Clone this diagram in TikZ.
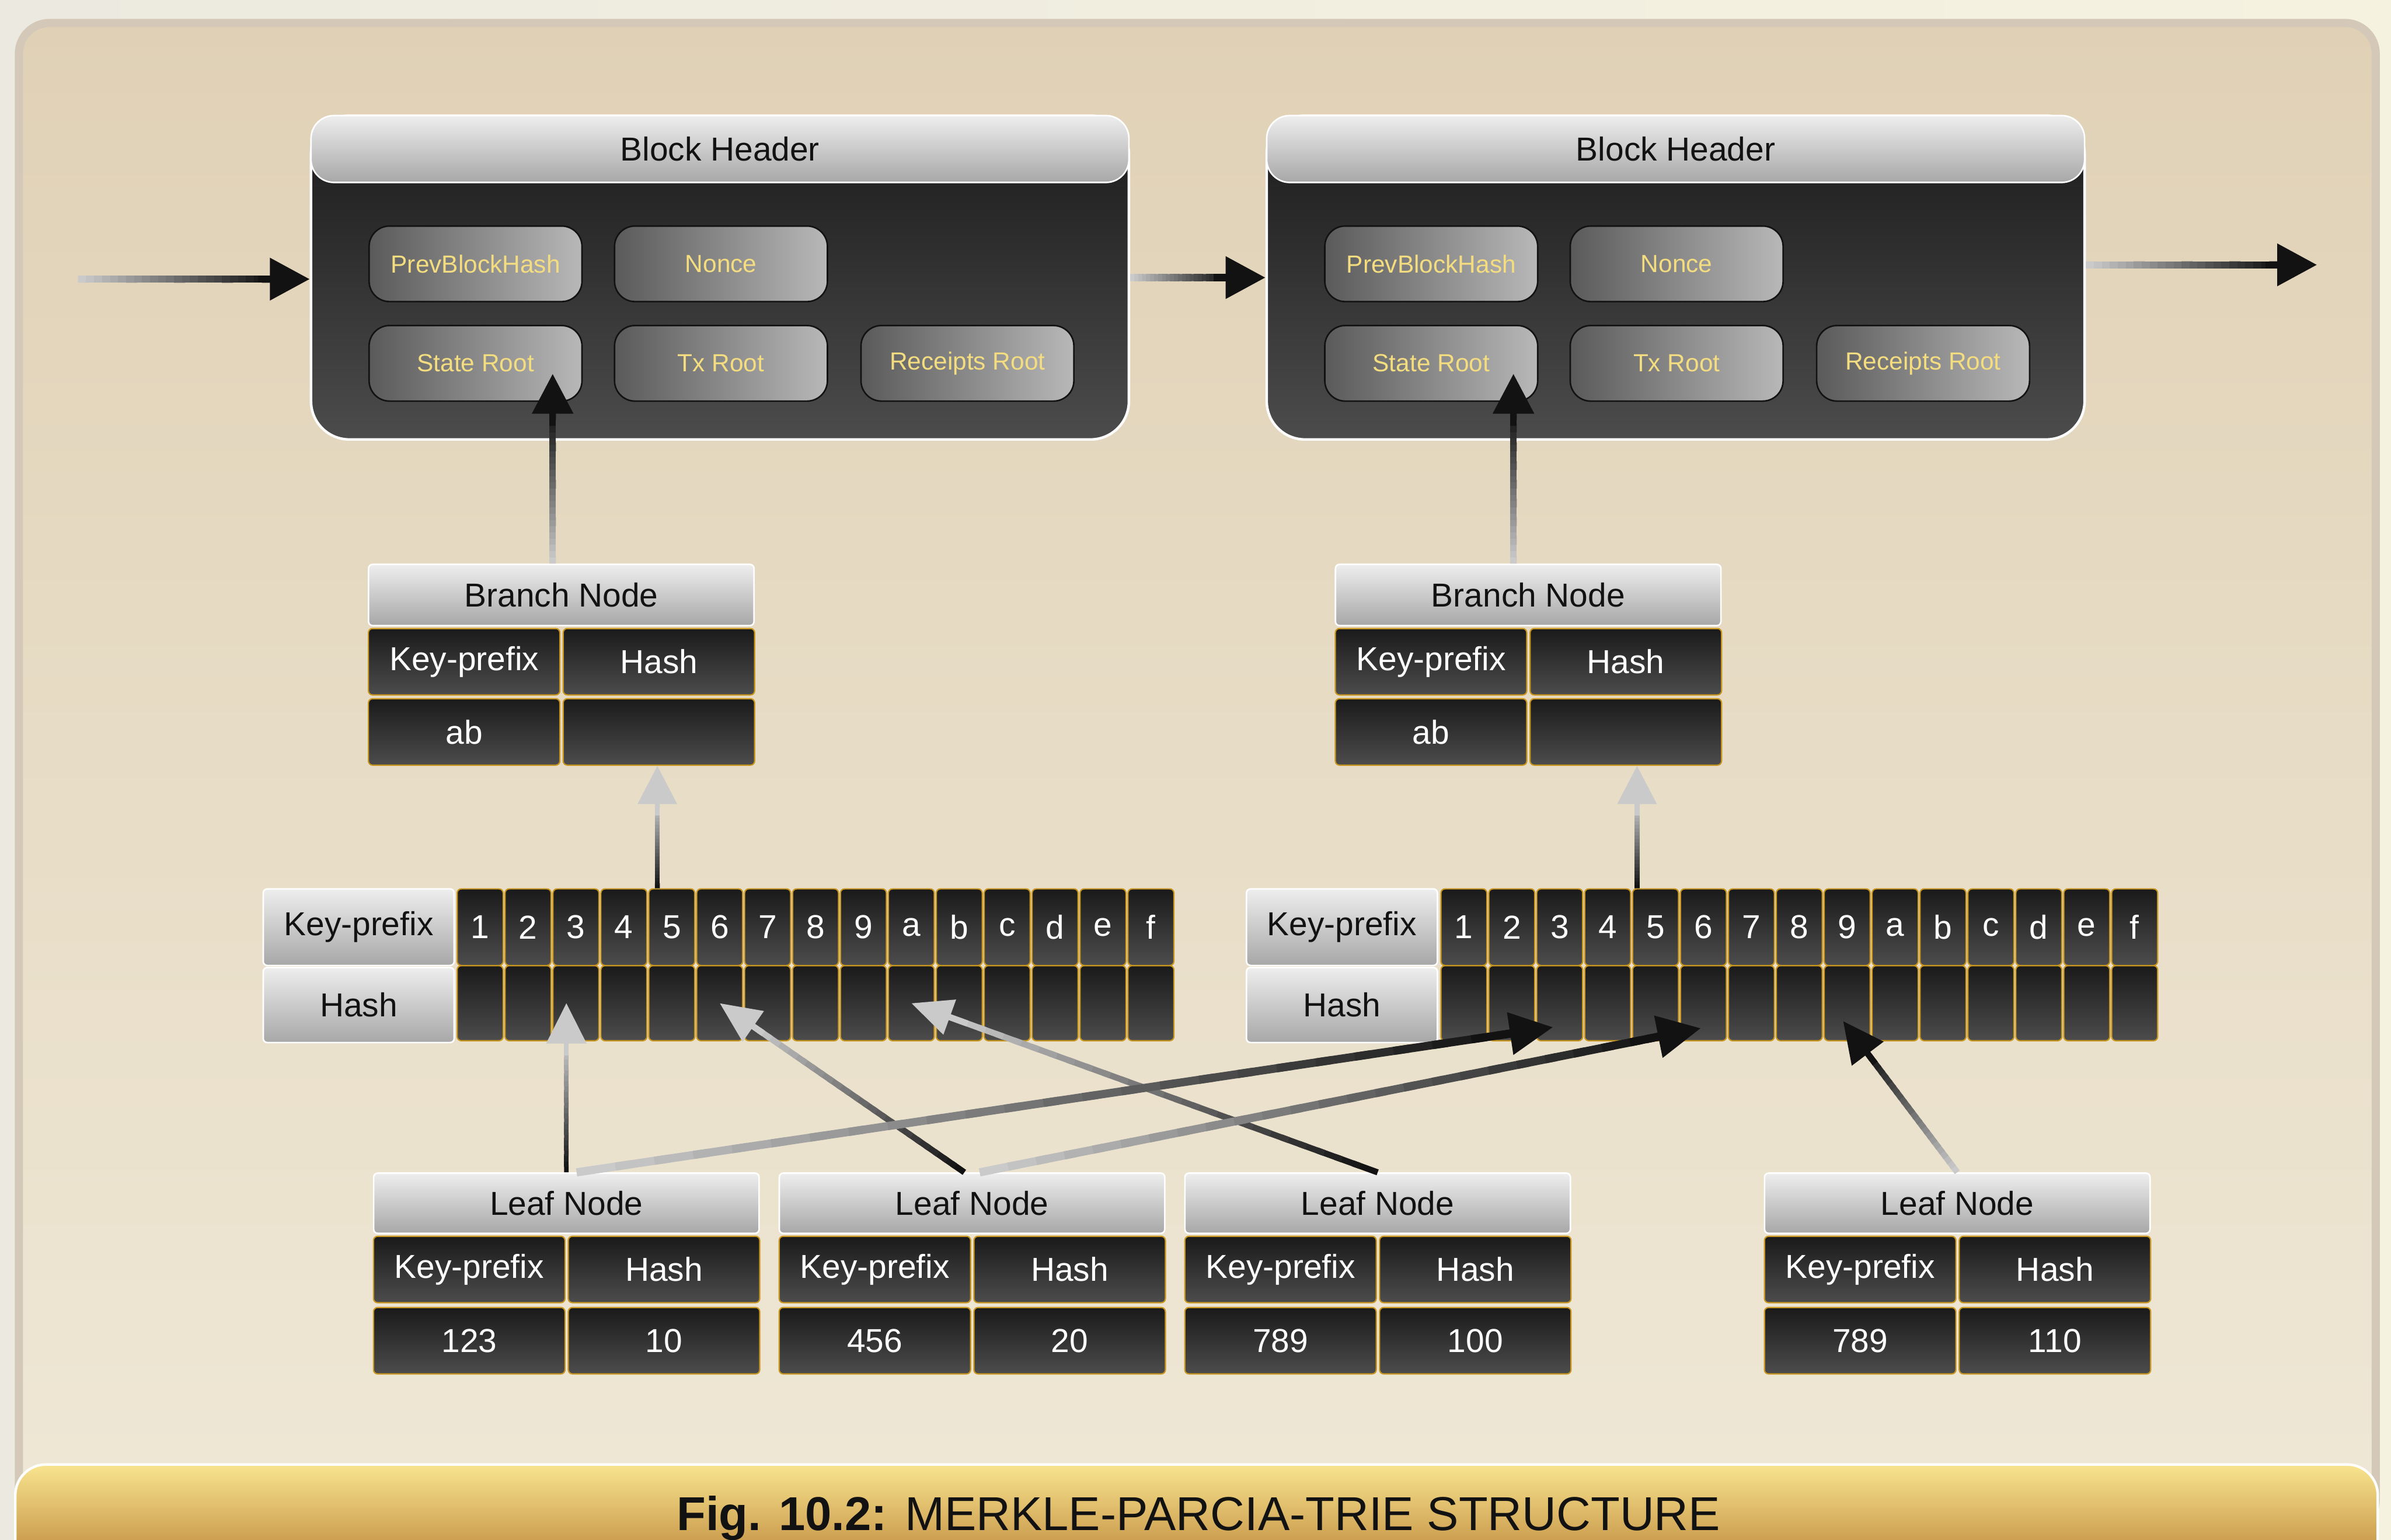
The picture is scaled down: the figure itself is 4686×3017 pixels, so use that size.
\documentclass[tikz,border=0pt]{standalone}
\usepackage{fontspec}
\setmainfont{Liberation Sans}
\usetikzlibrary{arrows.meta, positioning, calc}

\definecolor{ink}{HTML}{121212}
\definecolor{lite}{HTML}{CACACA}
\definecolor{gold}{HTML}{C9961F}
\definecolor{pillgold}{HTML}{F3DD80}
\definecolor{celltop}{HTML}{1A1A1A}
\definecolor{cellbot}{HTML}{4C4C4C}
\definecolor{ttltop}{HTML}{EEEEEE}
\definecolor{ttlbot}{HTML}{A7A7A7}
\definecolor{pillleft}{HTML}{5A5A5A}
\definecolor{pillright}{HTML}{B8B8B8}
\definecolor{bgleft}{HTML}{ECEAE0}
\definecolor{bgright}{HTML}{F6F2E0}
\definecolor{panelrim}{HTML}{D4C9B9}
\definecolor{paneltop}{HTML}{E0D1B6}
\definecolor{panelbot}{HTML}{EFE8D6}
\definecolor{bantop}{HTML}{F8E48E}
\definecolor{banbot}{HTML}{B57A30}

\newcommand\cellfont{\fontsize{18.5}{22}\selectfont}
\newcommand\pillfont{\fontsize{13.8}{16}\selectfont}
\newcommand\capfont{\fontsize{26.5}{30}\selectfont}

% gradient connector: line width, tip length, tip width, tail colour, head colour, from, to
\newcommand\glink[7]{%
  \coordinate (gb) at ($#7!#2!#6$);
  \foreach \segI [evaluate=\segI as \segA using \segI/24,
                  evaluate=\segI as \segB using (\segI+1.4)/24,
                  evaluate=\segI as \segP using int(\segI*100/23)] in {0,...,23}
    \draw[line width=#1, #5!\segP!#4] ($#6!\segA!(gb)$) -- ($#6!\segB!(gb)$);
  \draw[line width=#1, #5, -{Triangle[length=#2, width=#3]}] ($#7!1.3!(gb)$) -- #7;
}

\begin{document}
\begin{tikzpicture}[x=0.01cm, y=-0.01cm,
    blkbody/.style={rectangle, rounded corners=0.75cm, draw=white, line width=0.05cm,
                    top color=celltop, bottom color=cellbot,
                    minimum width=16.02cm, minimum height=6.34cm},
    blkhead/.style={rectangle, rounded corners=0.45cm, draw=white, line width=0.03cm,
                    top color=ttltop, bottom color=ttlbot, text=ink, font=\cellfont,
                    minimum width=16.02cm, minimum height=1.31cm},
    field/.style={rectangle, rounded corners=0.4cm, draw=ink, line width=0.03cm,
                  left color=pillleft, right color=pillright, text=pillgold,
                  font=\pillfont, minimum width=4.17cm, minimum height=1.48cm},
    ttl/.style={rectangle, rounded corners=0.08cm, draw=white, line width=0.03cm,
                top color=ttltop, bottom color=ttlbot, text=ink, font=\cellfont,
                minimum width=7.55cm, minimum height=1.18cm},
    tcell/.style={rectangle, rounded corners=0.08cm, draw=gold, line width=0.025cm,
                  top color=celltop, bottom color=cellbot, text=white, font=\cellfont,
                  minimum width=3.75cm, minimum height=1.30cm, inner sep=0pt},
    kcell/.style={tcell, minimum width=0.90cm, minimum height=1.50cm},
    hcell/.style={tcell, minimum width=0.90cm, minimum height=1.47cm},
    lbl/.style={ttl, minimum width=3.74cm, minimum height=1.50cm},
]
\useasboundingbox (0,0) rectangle (4686,3017);
\clip (0,0) rectangle (4686,3017);

% Backdrop
\path[left color=bgleft, right color=bgright] (0,0) rectangle (4686,3017);
\path[draw=panelrim, line width=0.16cm, top color=paneltop, bottom color=panelbot,
      rounded corners=0.6cm] (37,45) rectangle (4656,3000);
\path[draw=white, line width=0.05cm, top color=bantop, bottom color=banbot,
      rounded corners=0.6cm] (30,2870) rectangle (4660,3100);
\node[font=\capfont, text=ink, anchor=base] (cap) at (2349,2999)
      {\textbf{Fig. 10.2:} MERKLE-PARCIA-TRIE STRUCTURE};

% Block headers
\node[blkbody] (blkL) at (1411,544) {};
\node[blkhead] (blkLt) at (1411,292) {Block Header};
\node[field] (prevL)  at (932,517)  {PrevBlockHash};
\node[field] (nonceL) at (1413,517) {Nonce};
\node[field] (stateL) at (932,712)  {State Root};
\node[field] (txL)    at (1413,712) {Tx Root};
\node[field] (rcptL)  at (1896,712) {Receipts Root};

\node[blkbody] (blkR) at (3284,544) {};
\node[blkhead] (blkRt) at (3284,292) {Block Header};
\node[field] (prevR)  at (2805,517) {PrevBlockHash};
\node[field] (nonceR) at (3286,517) {Nonce};
\node[field] (stateR) at (2805,712) {State Root};
\node[field] (txR)    at (3286,712) {Tx Root};
\node[field] (rcptR)  at (3769,712) {Receipts Root};

% Branch nodes
\node[ttl, minimum height=1.20cm] (brL) at (1100,1166) {Branch Node};
\node[tcell, below right=0.03cm and 0cm of brL.south west] (bkL) {Key-prefix};
\node[tcell, right=0.04cm of bkL] (bhL) {Hash};
\node[tcell, below=0.05cm of bkL] (bvL) {ab};
\node[tcell, right=0.04cm of bvL] (bxL) {};

\node[ttl, minimum height=1.20cm] (brR) at (2995,1166) {Branch Node};
\node[tcell, below right=0.03cm and 0cm of brR.south west] (bkR) {Key-prefix};
\node[tcell, right=0.04cm of bkR] (bhR) {Hash};
\node[tcell, below=0.05cm of bkR] (bvR) {ab};
\node[tcell, right=0.04cm of bvR] (bxR) {};

% Branch rows
\node[lbl] (kLbl) at (703,1817) {Key-prefix};
\node[lbl, minimum height=1.47cm, below=0.01cm of kLbl] (hLbl) {Hash};
\node[lbl] (kRbl) at (2630,1817) {Key-prefix};
\node[lbl, minimum height=1.47cm, below=0.01cm of kRbl] (hRbl) {Hash};
\foreach \c [count=\i from 0] in {1,2,3,4,5,6,7,8,9,a,b,c,d,e,f} {
  \node[kcell] (kL\c) at ({941+93.9*\i},1817) {\c};
  \node[hcell] (hL\c) at ({941+93.9*\i},1966) {};
  \node[kcell] (kR\c) at ({2869+93.9*\i},1817) {\c};
  \node[hcell] (hR\c) at ({2869+93.9*\i},1966) {};
}

% Leaf nodes
\foreach \n/\x/\k/\h in {1/1110/123/10, 2/1905/456/20, 3/2700/789/100, 4/3836/789/110} {
  \node[ttl] (leaf\n) at (\x,2358) {Leaf Node};
  \node[tcell, below right=0.03cm and 0cm of leaf\n.south west] (lk\n) {Key-prefix};
  \node[tcell, right=0.04cm of lk\n] (lh\n) {Hash};
  \node[tcell, below=0.07cm of lk\n] (lv\n) {\k};
  \node[tcell, right=0.04cm of lv\n] (lx\n) {\h};
}

% Connectors
\coordinate (in)  at (153,547);
\coordinate (out) at (4541,519);
\coordinate (srL) at ($(stateL.south east)+(-59,-55)$);
\coordinate (srR) at ($(stateR.south east)+(-49,-55)$);
\coordinate (upL) at ($(kL5.north west)+(18,0)$);
\coordinate (upR) at ($(kR5.north west)+(10,0)$);
\coordinate (t4)  at ($(hR3.center)+(-13,47)$);
\coordinate (t5)  at ($(hR6.center)+(-5,49)$);
\coordinate (t6)  at ($(hR9.center)+(-8,35)$);

\glink{1.4mm}{7.8mm}{8mm}{lite}{ink}{(in)}{(in -| blkL.west)}
\glink{1.4mm}{7.8mm}{8mm}{lite}{ink}{(blkL.east)}{(blkR.west)}
\glink{1.4mm}{7.8mm}{8mm}{lite}{ink}{(out -| blkR.east)}{(out)}

\glink{1.3mm}{7.8mm}{7.8mm}{lite}{ink}{(brL.north -| srL)}{(srL)}
\glink{1.3mm}{7.8mm}{7.8mm}{lite}{ink}{(brR.north -| srR)}{(srR)}

\glink{1mm}{7.5mm}{7.5mm}{ink}{lite}{(upL)}{(upL |- bxL.south)}
\glink{1mm}{7.5mm}{7.5mm}{ink}{lite}{(upR)}{(upR |- bxR.south)}

\glink{0.9mm}{7.9mm}{7.7mm}{ink}{lite}{(leaf1.north)}{(leaf1.north |- hL3.center)}
\glink{1.2mm}{8mm}{7mm}{ink}{lite}{([xshift=-1.5mm]leaf2.north)}{(hL6.center)}
\glink{1.2mm}{8mm}{7mm}{ink}{lite}{(leaf3.north)}{(hLa.center)}
\glink{1.6mm}{8.5mm}{8mm}{lite}{ink}{([xshift=2mm]leaf1.north)}{(t4)}
\glink{1.6mm}{8.5mm}{8mm}{lite}{ink}{([xshift=1.5mm]leaf2.north)}{(t5)}
\glink{1.2mm}{8mm}{7.5mm}{lite}{ink}{(leaf4.north)}{(t6)}

\end{tikzpicture}
\end{document}
